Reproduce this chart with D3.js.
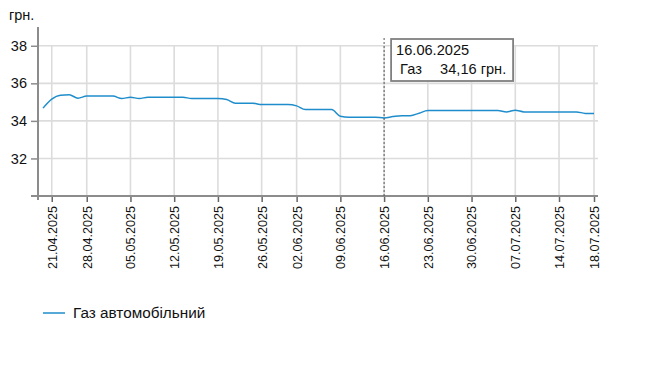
<!DOCTYPE html>
<html><head><meta charset="utf-8">
<script src="https://cdn.jsdelivr.net/npm/d3@7"></script>
<style>
body{margin:0;background:#fff;}
text{font-family:Arial,"Liberation Sans",sans-serif;}
</style></head>
<body><svg id="c" width="659" height="368"></svg>
<script>
const dates = ["18.04.2025","21.04.2025","22.04.2025","23.04.2025","24.04.2025",
"28.04.2025","29.04.2025","30.04.2025","01.05.2025","02.05.2025",
"05.05.2025","06.05.2025","07.05.2025","08.05.2025","09.05.2025",
"12.05.2025","13.05.2025","14.05.2025","15.05.2025","16.05.2025",
"19.05.2025","20.05.2025","21.05.2025","22.05.2025","23.05.2025",
"26.05.2025","27.05.2025","28.05.2025","29.05.2025",
"02.06.2025","03.06.2025","04.06.2025","05.06.2025","06.06.2025",
"09.06.2025","10.06.2025","11.06.2025","12.06.2025","13.06.2025",
"16.06.2025","17.06.2025","18.06.2025","19.06.2025","20.06.2025",
"23.06.2025","24.06.2025","25.06.2025","26.06.2025","27.06.2025",
"30.06.2025","01.07.2025","02.07.2025","03.07.2025","04.07.2025",
"07.07.2025","08.07.2025","09.07.2025","10.07.2025","11.07.2025",
"14.07.2025","15.07.2025","16.07.2025","17.07.2025","18.07.2025"];
const gasValues = [34.68,35.16,35.37,35.39,35.21,
35.32,35.32,35.32,35.32,35.19,
35.26,35.19,35.26,35.26,35.26,
35.26,35.26,35.19,35.19,35.19,
35.19,35.14,34.94,34.94,34.94,
34.87,34.87,34.87,34.87,
34.80,34.60,34.60,34.60,34.60,
34.25,34.20,34.20,34.20,34.20,
34.16,34.23,34.28,34.28,34.41,
34.55,34.55,34.55,34.55,34.55,
34.55,34.55,34.55,34.55,34.48,
34.57,34.48,34.48,34.48,34.48,
34.48,34.48,34.48,34.40,34.40];
const tickDates = ["21.04.2025","28.04.2025","05.05.2025","12.05.2025","19.05.2025","26.05.2025","02.06.2025","09.06.2025","16.06.2025","23.06.2025","30.06.2025","07.07.2025","14.07.2025","18.07.2025"];
const yTicks = [32,34,36,38];
const seriesName = "Газ автомобільний";
const unitLabel = "грн.";
const tooltipDate = "16.06.2025";
const tooltipShort = "Газ";

const svg = d3.select("#c");
const x = d3.scalePoint().domain(dates).range([43,594]);
const y = d3.scaleLinear().domain([30,39]).range([196,27]);
const gridColor = "#dcdcdc", axisColor = "#8c8c8c", lineColor = "#1f8dcb";

// grid
svg.append("g").selectAll("line").data(yTicks).join("line")
  .attr("x1",38).attr("x2",598).attr("y1",d=>y(d)).attr("y2",d=>y(d))
  .attr("stroke",gridColor).attr("stroke-width",1.6);
svg.append("g").selectAll("line").data(tickDates).join("line")
  .attr("x1",d=>x(d)).attr("x2",d=>x(d)).attr("y1",y(38)).attr("y2",196)
  .attr("stroke",gridColor).attr("stroke-width",1.6);

// y axis
const yAxis = svg.append("g").attr("transform","translate(38,0)")
  .call(d3.axisLeft(y).tickValues(yTicks).tickSize(7).tickSizeOuter(0).tickPadding(4));
yAxis.select(".domain").remove();
yAxis.selectAll(".tick line").attr("stroke",axisColor).attr("stroke-width",1.5);
yAxis.selectAll(".tick text").attr("font-size",14.5).attr("fill","#111").attr("font-family","Arial,'Liberation Sans',sans-serif");
svg.append("line").attr("x1",38).attr("x2",38).attr("y1",27).attr("y2",200)
  .attr("stroke",axisColor).attr("stroke-width",2);

// x axis
const xAxis = svg.append("g").attr("transform","translate(0,196)")
  .call(d3.axisBottom(x).tickValues(tickDates).tickSize(6).tickSizeOuter(0));
xAxis.select(".domain").remove();
xAxis.selectAll(".tick line").attr("stroke","#666").attr("stroke-width",1.5);
xAxis.selectAll(".tick text").attr("font-size",12.6).attr("fill","#111")
  .attr("font-family","Arial,'Liberation Sans',sans-serif")
  .attr("transform","rotate(-90)").attr("text-anchor","end")
  .attr("x",-10).attr("y",0).attr("dy","0.35em");
svg.append("line").attr("x1",31).attr("x2",598).attr("y1",196).attr("y2",196)
  .attr("stroke",axisColor).attr("stroke-width",2);

// unit label
svg.append("text").attr("x",9).attr("y",20).attr("font-size",14.5).attr("fill","#111").text(unitLabel);

// line
const line = d3.line().x((d,i)=>x(dates[i])).y(d=>y(d)).curve(d3.curveMonotoneX);
svg.append("path").datum(gasValues).attr("d",line).attr("fill","none")
  .attr("stroke",lineColor).attr("stroke-width",1.5);

// crosshair + tooltip
const ti = dates.indexOf(tooltipDate);
const tx = x(tooltipDate);
svg.append("line").attr("x1",tx).attr("x2",tx).attr("y1",38).attr("y2",196)
  .attr("stroke","#555").attr("stroke-width",1).attr("stroke-dasharray","2,2");
const tg = svg.append("g");
tg.append("rect").attr("x",tx+7).attr("y",39).attr("width",122).attr("height",42)
  .attr("fill","#fff").attr("stroke","#808080").attr("stroke-width",1.8);
tg.append("text").attr("x",tx+12).attr("y",55).attr("font-size",14.6).attr("fill","#111").text(tooltipDate);
tg.append("text").attr("x",tx+16).attr("y",74).attr("font-size",14.6).attr("fill","#111").text(tooltipShort);
tg.append("text").attr("x",tx+56).attr("y",74).attr("font-size",14.6).attr("fill","#111")
  .text(gasValues[ti].toFixed(2).replace(".",",")+" "+unitLabel);

// legend
svg.append("line").attr("x1",43).attr("x2",65).attr("y1",313).attr("y2",313)
  .attr("stroke",lineColor).attr("stroke-width",1.5);
svg.append("text").attr("x",73).attr("y",318).attr("font-size",15.3).attr("fill","#111").text(seriesName);
</script></body></html>
